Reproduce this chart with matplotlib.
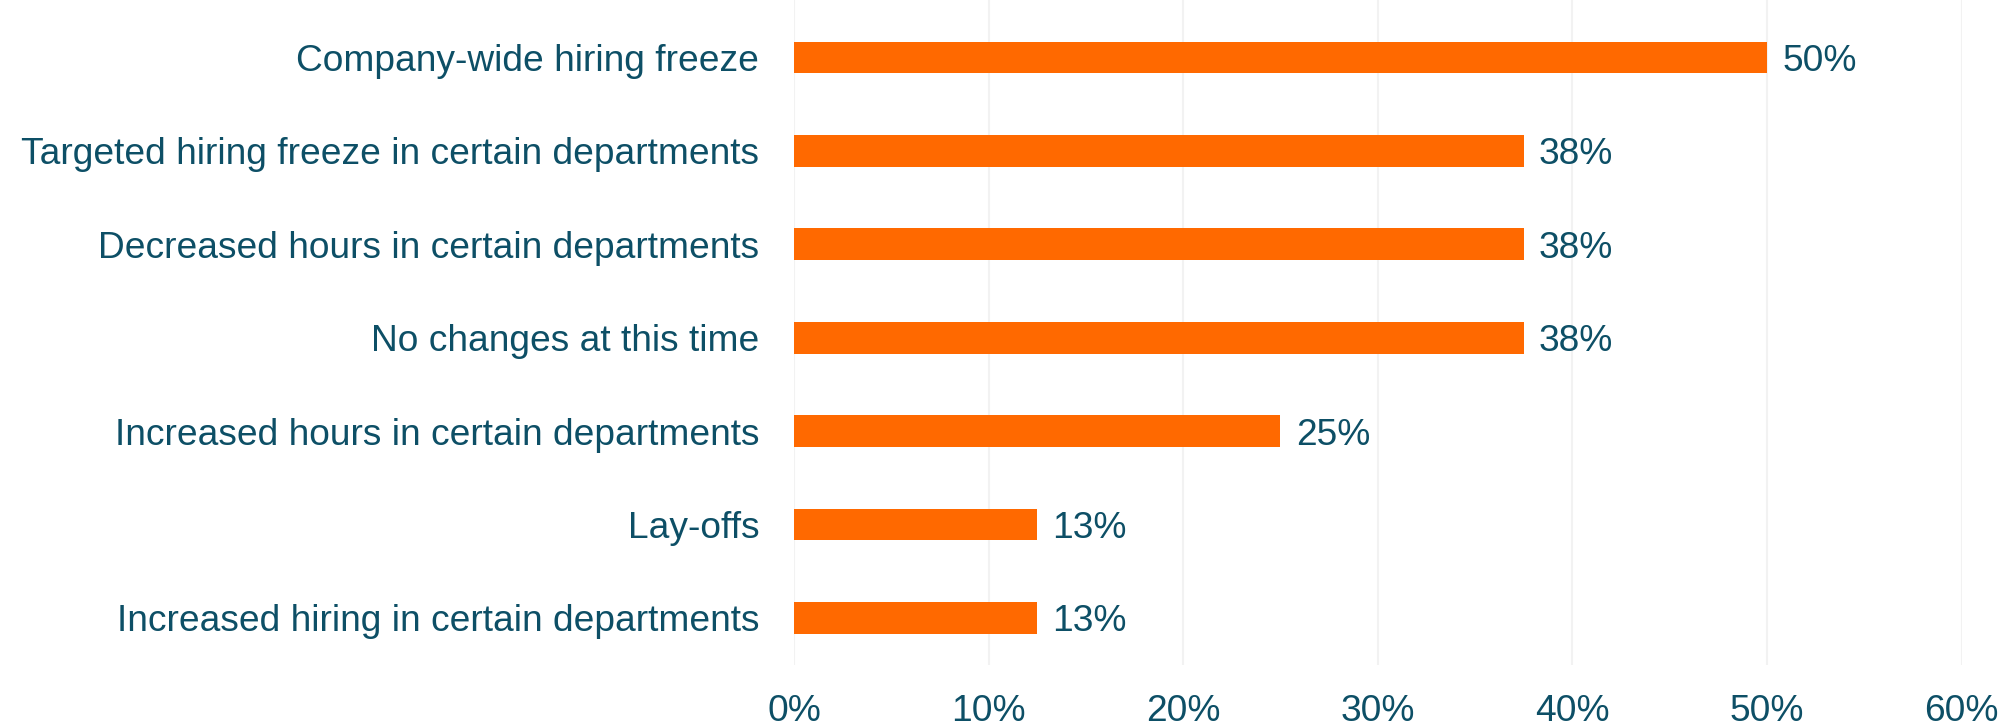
import matplotlib.pyplot as plt
from matplotlib.ticker import FuncFormatter

# ==========================
# Data
# ==========================

categories = [
    "Company-wide hiring freeze",
    "Targeted hiring freeze in certain departments",
    "Decreased hours in certain departments",
    "No changes at this time",
    "Increased hours in certain departments",
    "Lay-offs",
    "Increased hiring in certain departments",
]

shares = [50.0, 37.5, 37.5, 37.5, 25.0, 12.5, 12.5]

x_ticks = [0, 10, 20, 30, 40, 50, 60]

# ==========================
# Style
# ==========================

BAR_COLOR = "#FF6900"
TEXT_COLOR = "#0D4F66"
GRID_COLOR = "#F2F2F2"
FONT_SIZE = 26.7

plt.rcParams["font.family"] = ["Liberation Sans", "DejaVu Sans"]

# ==========================
# Plot
# ==========================

fig = plt.figure(figsize=(20.02, 7.27), dpi=100)
ax = fig.add_axes([0.3966, 0.0857, 0.5832, 0.9143])

y_pos = list(range(len(categories)))
ax.barh(y_pos, shares, height=0.34, color=BAR_COLOR, zorder=3)

# value labels, rounded half up like the source table
for y, v in zip(y_pos, shares):
    ax.annotate(f"{int(v + 0.5)}%", xy=(v, y), xytext=(11, 0),
                textcoords="offset points", va="center_baseline", ha="left",
                fontsize=FONT_SIZE, color=TEXT_COLOR)

ax.set_yticks(y_pos)
ax.set_yticklabels(categories)
ax.set_ylim(len(categories) - 0.5, -0.616)

ax.set_xlim(0, 60)
ax.set_xticks(x_ticks)
ax.xaxis.set_major_formatter(FuncFormatter(lambda v, _: f"{v:.0f}%"))

ax.tick_params(axis="both", length=0, labelsize=FONT_SIZE, colors=TEXT_COLOR)
ax.tick_params(axis="y", pad=25)
ax.tick_params(axis="x", pad=21)

ax.grid(axis="x", color=GRID_COLOR, linewidth=1.5, zorder=0)
for spine in ax.spines.values():
    spine.set_visible(False)

fig.savefig("out.png", dpi=100)
